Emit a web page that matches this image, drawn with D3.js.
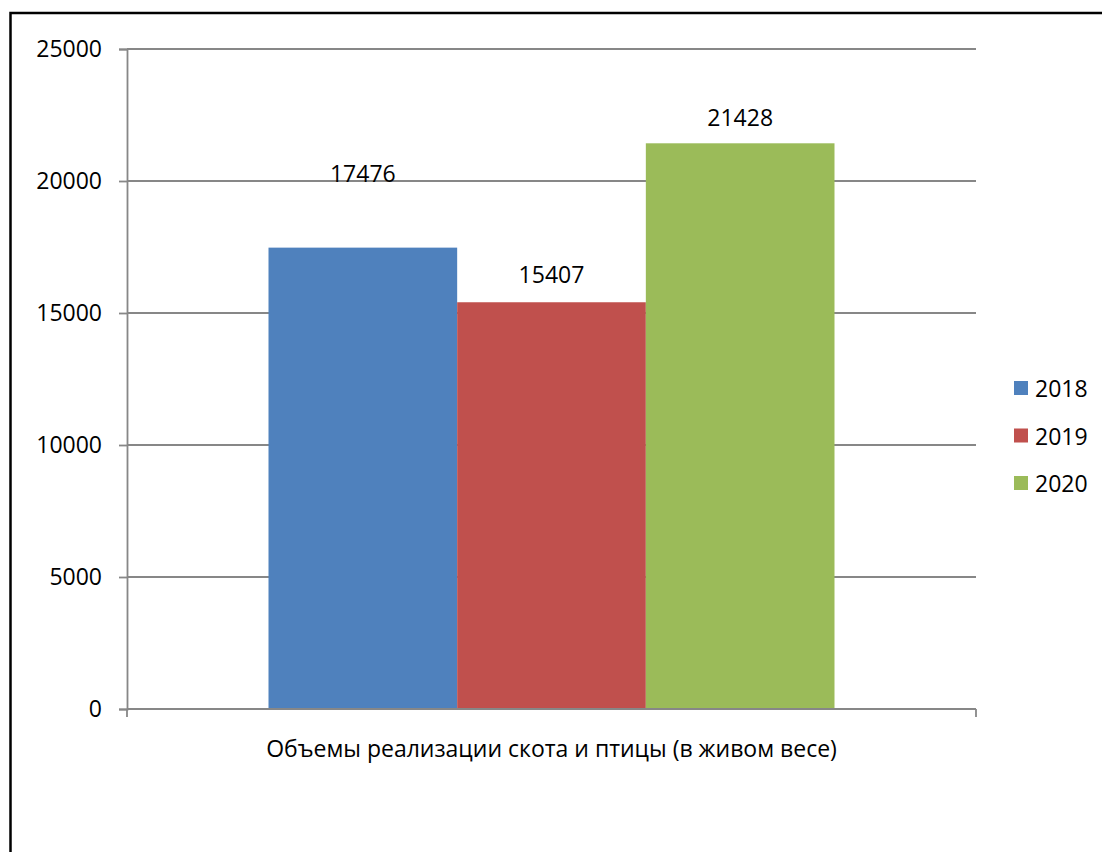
<!DOCTYPE html>
<html><head><meta charset="utf-8">
<script src="https://d3js.org/d3.v7.min.js"></script>
<style>body{margin:0;background:#fff}svg{display:block}text{font-family:"Open Sans","Liberation Sans",sans-serif;fill:#000}</style>
</head><body><div id="chart"></div>
<script>
const category = "Объемы реализации скота и птицы (в живом весе)";
const series = ["2018", "2019", "2020"];
const values = [17476, 15407, 21428];
const colors = ["#4F81BD", "#C0504D", "#9BBB59"];
const yTicks = [0, 5000, 10000, 15000, 20000, 25000];

const W = 1102, H = 852;
const svg = d3.select("#chart").append("svg").attr("width", W).attr("height", H);
const fs = 23;

// outer border (only left/top visible)
svg.append("rect").attr("x", 10.5).attr("y", 13).attr("width", W + 20).attr("height", H + 20)
  .attr("fill", "none").attr("stroke", "#000").attr("stroke-width", 2.5);

const plot = {left: 127, right: 976, top: 49, bottom: 709};
const y = d3.scaleLinear().domain([0, 25000]).range([plot.bottom, plot.top]);
const xBand = d3.scaleBand().domain([category]).range([plot.left, plot.right]).paddingInner(0).paddingOuter(0);
const gap = 1.5; // gap width relative to bar width
const barW = xBand.bandwidth() / (series.length + gap);
const xs = d3.scaleBand().domain(series)
  .range([xBand(category) + barW * gap / 2, xBand(category) + xBand.bandwidth() - barW * gap / 2]).padding(0);

// gridlines + y axis
const yAxis = d3.axisLeft(y).tickValues(yTicks).tickSize(8).tickPadding(17).tickFormat(d3.format("d"));
const gy = svg.append("g").attr("transform", `translate(${plot.left},0)`).call(yAxis);
gy.select(".domain").attr("stroke", "#878787").attr("stroke-width", 1.8);
gy.selectAll(".tick line").attr("stroke", "#878787").attr("stroke-width", 1.8);
gy.selectAll(".tick text").style("font-size", fs + "px").attr("fill", "#000");

svg.append("g").selectAll("line").data(yTicks.filter(d => d > 0)).join("line")
  .attr("x1", plot.left).attr("x2", plot.right).attr("y1", d => y(d)).attr("y2", d => y(d))
  .attr("stroke", "#878787").attr("stroke-width", 1.8);

// bars
svg.append("g").selectAll("rect").data(values).join("rect")
  .attr("x", (d, i) => xs(series[i])).attr("width", xs.bandwidth())
  .attr("y", d => y(d)).attr("height", d => y(0) - y(d))
  .attr("fill", (d, i) => colors[i]);

// x axis
svg.append("line").attr("x1", plot.left).attr("x2", plot.right).attr("y1", y(0)).attr("y2", y(0))
  .attr("stroke", "#878787").attr("stroke-width", 1.8);
svg.append("g").selectAll("line").data(xBand.range()).join("line")
  .attr("x1", d => d).attr("x2", d => d).attr("y1", y(0)).attr("y2", y(0) + 8)
  .attr("stroke", "#878787").attr("stroke-width", 1.8);
svg.append("text").attr("x", xBand(category) + xBand.bandwidth() / 2).attr("y", plot.bottom + 48)
  .attr("text-anchor", "middle").style("font-size", fs + "px").text(category);

// data labels (first one sits higher in original)
const labelLift = [66, 19, 17];
svg.append("g").selectAll("text").data(values).join("text")
  .attr("x", (d, i) => xs(series[i]) + xs.bandwidth() / 2)
  .attr("y", (d, i) => y(d) - labelLift[i])
  .attr("text-anchor", "middle").style("font-size", fs + "px").text(d => d);

// legend
const lg = svg.append("g").attr("transform", "translate(1014,381)");
const row = lg.selectAll("g").data(series).join("g").attr("transform", (d, i) => `translate(0,${i * 47.5})`);
row.append("rect").attr("width", 14).attr("height", 14).attr("fill", (d, i) => colors[i]);
row.append("text").attr("x", 21).attr("y", 16).style("font-size", fs + "px").text(d => d);
</script></body></html>
